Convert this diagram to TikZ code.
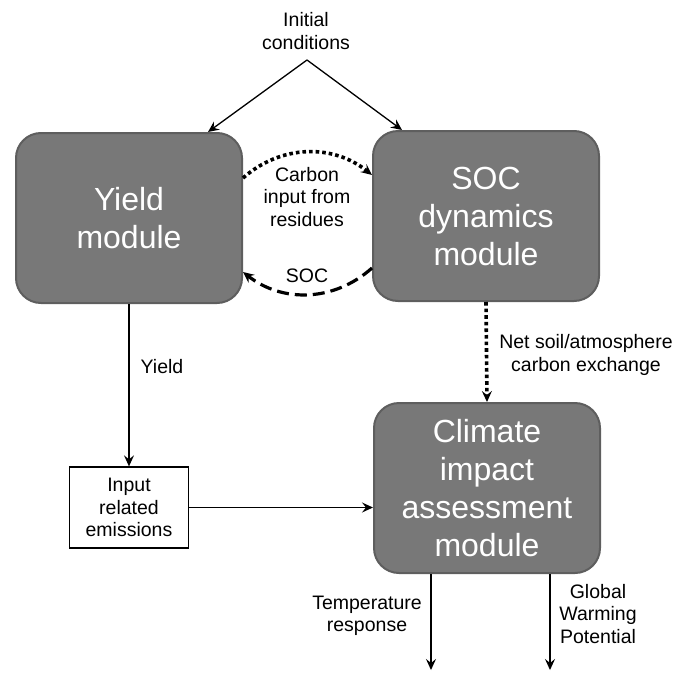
\documentclass[tikz,border=0pt]{standalone}
\usepackage{fontspec}
\setmainfont{Liberation Sans}
\usepackage{tikz}
\usetikzlibrary{arrows.meta, positioning}

\definecolor{modfill}{HTML}{787878}
\definecolor{moddraw}{HTML}{5E5E5E}

\begin{document}
\begin{tikzpicture}[x=1pt, y=-1pt, >={Stealth[length=11pt, width=10pt, inset=4pt]},
    module/.style={draw=moddraw, fill=modfill, line width=2pt, rounded corners=25pt,
      minimum width=226pt, minimum height=170pt, align=center, text=white,
      font=\fontsize{32}{38}\selectfont},
    lbl/.style={align=center, font=\fontsize{19.5}{22.5}\selectfont},
    flow/.style={->, line width=1.3pt},
    cdotted/.style={->, line width=3.6pt, dash pattern=on 3.6pt off 3pt},
    cdashed/.style={->, line width=3.2pt, dash pattern=on 12pt off 6pt}]
    \useasboundingbox (0,0) rectangle (688,672);

    % Modules
    \node[module] (yield) at (129,218) {Yield\\module};
    \node[module] (soc) at (486,216) {SOC\\dynamics\\module};
    \node[module] (climate) at (487,488) {Climate\\impact\\assessment\\module};
    \node[draw, line width=1.3pt, minimum width=119pt, minimum height=81pt, lbl] (input) at (129,507.5) {Input\\related\\emissions};

    % Initial conditions
    \node[lbl] (init) at (306,31) {Initial\\conditions};
    \coordinate (apex) at (307,60);
    \draw[flow] (apex) -- ([xshift=-35pt]yield.north east);
    \draw[flow] (apex) -- ([xshift=30pt]soc.north west);

    % Carbon exchange between yield and SOC
    \draw[cdotted] ([yshift=40pt]yield.east) to[bend left=40] ([yshift=41pt]soc.west);
    \node[lbl] (residues) at (307,197) {Carbon\\input from\\residues};
    \draw[cdashed] ([yshift=-52pt]soc.west) to[bend left=40] ([yshift=-54pt]yield.east);
    \node[lbl] (soclbl) at (307,276) {SOC};

    % Yield to emissions
    \draw[flow] (yield.south) -- (input.north);
    \node[lbl] (yieldlbl) at (162,367) {Yield};
    \draw[flow] (input.east) -- (input.east -| climate.west);

    % SOC to climate
    \draw[cdotted] (soc.south) -- (climate.north);
    \node[lbl] (netlbl) at (586,355) {Net soil/atmosphere\\carbon exchange};

    % Outputs
    \coordinate (temp) at (431,670);
    \coordinate (gwp) at (550,670);
    \draw[flow] (temp |- climate.south) -- (temp);
    \draw[flow] (gwp |- climate.south) -- (gwp);
    \node[lbl] (templbl) at (367,616) {Temperature\\response};
    \node[lbl] (gwplbl) at (598,614) {Global\\Warming\\Potential};
\end{tikzpicture}
\end{document}
